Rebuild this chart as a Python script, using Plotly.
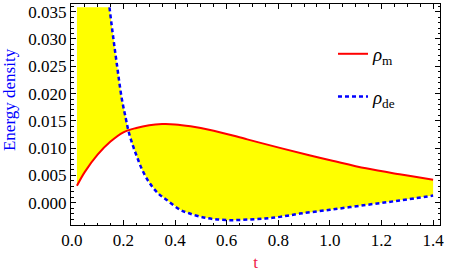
import plotly.graph_objects as go

# ---- data ----
t_m = [0.02, 0.05, 0.10, 0.15, 0.20, 0.25, 0.30, 0.35, 0.40, 0.46, 0.55,
       0.68, 0.81, 0.92, 1.01, 1.14, 1.27, 1.40]
rho_m = [0.0031, 0.0056, 0.0088, 0.0112, 0.0129, 0.0137, 0.0142, 0.0144,
         0.01435, 0.0140, 0.0132, 0.0116, 0.0100, 0.0087, 0.0077, 0.0063,
         0.0052, 0.0042]

t_de = [0.146, 0.16, 0.174, 0.194, 0.209, 0.219, 0.235, 0.252, 0.275, 0.303,
        0.335, 0.368, 0.42, 0.452, 0.50, 0.549, 0.613, 0.68, 0.75, 0.807,
        0.884, 1.0, 1.143, 1.27, 1.40]
rho_de = [0.0358, 0.0305, 0.0256, 0.0190, 0.0155, 0.0133, 0.0107, 0.0085,
          0.0058, 0.0035, 0.0017, 0.0005, -0.0013, -0.0019, -0.0026, -0.0030,
          -0.0032, -0.0031, -0.0029, -0.0026, -0.0020, -0.0013, -0.0004,
          0.0004, 0.0013]

y_clip = 0.0358  # top of the plot range where curves are clipped

x_ticks = [0.0, 0.2, 0.4, 0.6, 0.8, 1.0, 1.2, 1.4]
y_ticks = [0.000, 0.005, 0.010, 0.015, 0.020, 0.025, 0.030, 0.035]

SERIF = "Liberation Serif, Times New Roman, Times, DejaVu Serif, serif"

# fill polygon between the two curves (clipped at top)
fill_x = t_m + t_de[::-1] + [t_m[0]]
fill_y = rho_m + rho_de[::-1] + [y_clip]

fig = go.Figure()
fig.add_trace(go.Scatter(x=fill_x, y=fill_y, mode="lines", fill="toself",
                         fillcolor="#ffff00", line=dict(width=0),
                         showlegend=False, hoverinfo="skip"))
fig.add_trace(go.Scatter(x=t_m, y=rho_m, mode="lines",
                         name="<i>ρ</i><sub>m</sub>", legendgroup="a",
                         line=dict(color="#ff0000", width=2, shape="spline")))
fig.add_trace(go.Scatter(x=t_de, y=rho_de, mode="lines",
                         name="<i>ρ</i><sub>de</sub>", legendgroup="b",
                         line=dict(color="#0000ff", width=2.5, shape="spline",
                                   dash="4px,3px")))

axis_common = dict(showline=True, linecolor="black", linewidth=1,
                   mirror="allticks", ticks="inside", ticklen=5,
                   tickcolor="black", showgrid=False, zeroline=False,
                   tickfont=dict(family=SERIF, size=17, color="black"))

fig.update_xaxes(range=[-0.003, 1.4267], tickvals=x_ticks,
                 ticktext=[f"{v:.1f}" for v in x_ticks],
                 minor=dict(ticks="inside", dtick=0.05, tick0=0, ticklen=2.5,
                            tickcolor="black", showgrid=False),
                 title=dict(text="t", font=dict(family=SERIF, size=17,
                                                color="#f0204a"), standoff=6),
                 **axis_common)
fig.update_yaxes(range=[-0.00409, 0.03641], tickvals=y_ticks,
                 ticktext=[f"{v:.3f}" for v in y_ticks],
                 minor=dict(ticks="inside", dtick=0.001, tick0=0, ticklen=2.5,
                            tickcolor="black", showgrid=False),
                 **axis_common)

fig.add_annotation(text="Energy density", xref="paper", yref="paper",
                   x=-0.168, y=0.5656, xanchor="center", yanchor="middle",
                   textangle=-90, showarrow=False,
                   font=dict(family=SERIF, size=17, color="#0000ff"))

fig.update_layout(width=450, height=276,
                  font=dict(family=SERIF, size=17, color="black"),
                  margin=dict(l=71, r=10, t=4, b=51),
                  plot_bgcolor="white", paper_bgcolor="white",
                  legend=dict(x=0.71, y=0.86, xanchor="left", yanchor="top",
                              bgcolor="rgba(0,0,0,0)", tracegroupgap=15,
                              font=dict(family=SERIF, size=19, color="black")))

fig.write_html("out.html", config={"displayModeBar": False},
               post_script="document.body.style.margin='0';"
                           "document.body.style.padding='0';")
